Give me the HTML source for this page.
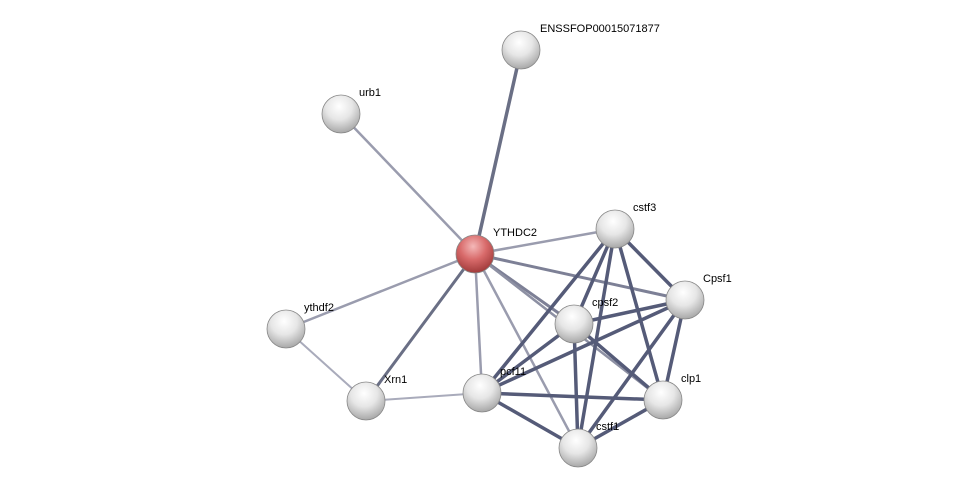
<!DOCTYPE html>
<html><head><meta charset="utf-8"><style>
html,body{margin:0;padding:0;background:#fff;}
svg{display:block;}
text{font-family:"Liberation Sans",sans-serif;font-size:11px;fill:#000;}
</style></head><body>
<svg width="975" height="493" viewBox="0 0 975 493" xmlns="http://www.w3.org/2000/svg">
<defs>
<radialGradient id="g" cx="0.45" cy="0.3" r="0.7">
<stop offset="0" stop-color="#ffffff"/><stop offset="0.5" stop-color="#e6e6e6"/><stop offset="1" stop-color="#a8a8a8"/>
</radialGradient>
<radialGradient id="r" cx="0.45" cy="0.3" r="0.7">
<stop offset="0" stop-color="#f4b8b8"/><stop offset="0.5" stop-color="#d86a6a"/><stop offset="1" stop-color="#a03a3a"/>
</radialGradient>
</defs>
<g stroke-linecap="round">
<line x1="475" y1="254" x2="521" y2="50" stroke="#6a6f85" stroke-width="3.5"/>
<line x1="475" y1="254" x2="341" y2="114" stroke="#9a9cae" stroke-width="2.5"/>
<line x1="475" y1="254" x2="615" y2="229" stroke="#9a9cae" stroke-width="2.5"/>
<line x1="475" y1="254" x2="685" y2="300" stroke="#7d8096" stroke-width="3"/>
<line x1="475" y1="254" x2="574" y2="324" stroke="#7d8096" stroke-width="3"/>
<line x1="475" y1="254" x2="286" y2="329" stroke="#9a9cae" stroke-width="2.5"/>
<line x1="475" y1="254" x2="366" y2="401" stroke="#6a6f85" stroke-width="3"/>
<line x1="475" y1="254" x2="482" y2="393" stroke="#9a9cae" stroke-width="2.5"/>
<line x1="475" y1="254" x2="663" y2="400" stroke="#8d90a3" stroke-width="2.5"/>
<line x1="475" y1="254" x2="578" y2="448" stroke="#9a9cae" stroke-width="2.5"/>
<line x1="286" y1="329" x2="366" y2="401" stroke="#a9abbb" stroke-width="2"/>
<line x1="366" y1="401" x2="482" y2="393" stroke="#a9abbb" stroke-width="2"/>
<g stroke="#555b78" stroke-width="3.5">
<line x1="615" y1="229" x2="685" y2="300"/>
<line x1="615" y1="229" x2="574" y2="324"/>
<line x1="615" y1="229" x2="482" y2="393"/>
<line x1="615" y1="229" x2="663" y2="400"/>
<line x1="615" y1="229" x2="578" y2="448"/>
<line x1="685" y1="300" x2="574" y2="324"/>
<line x1="685" y1="300" x2="482" y2="393"/>
<line x1="685" y1="300" x2="663" y2="400"/>
<line x1="685" y1="300" x2="578" y2="448"/>
<line x1="574" y1="324" x2="482" y2="393"/>
<line x1="574" y1="324" x2="663" y2="400"/>
<line x1="574" y1="324" x2="578" y2="448"/>
<line x1="482" y1="393" x2="663" y2="400"/>
<line x1="482" y1="393" x2="578" y2="448"/>
<line x1="663" y1="400" x2="578" y2="448"/>
</g>
</g>
<g stroke="#888" stroke-width="0.8">
<circle cx="521" cy="50" r="19" fill="url(#g)"/>
<circle cx="341" cy="114" r="19" fill="url(#g)"/>
<circle cx="475" cy="254" r="19" fill="url(#r)"/>
<circle cx="615" cy="229" r="19" fill="url(#g)"/>
<circle cx="685" cy="300" r="19" fill="url(#g)"/>
<circle cx="574" cy="324" r="19" fill="url(#g)"/>
<circle cx="286" cy="329" r="19" fill="url(#g)"/>
<circle cx="366" cy="401" r="19" fill="url(#g)"/>
<circle cx="482" cy="393" r="19" fill="url(#g)"/>
<circle cx="663" cy="400" r="19" fill="url(#g)"/>
<circle cx="578" cy="448" r="19" fill="url(#g)"/>
</g>
<text x="540" y="32">ENSSFOP00015071877</text>
<text x="359" y="96">urb1</text>
<text x="493" y="236">YTHDC2</text>
<text x="633" y="211">cstf3</text>
<text x="703" y="282">Cpsf1</text>
<text x="592" y="306">cpsf2</text>
<text x="304" y="311">ythdf2</text>
<text x="384" y="383">Xrn1</text>
<text x="500" y="375">pcf11</text>
<text x="681" y="382">clp1</text>
<text x="596" y="430">cstf1</text>
</svg>
</body></html>
